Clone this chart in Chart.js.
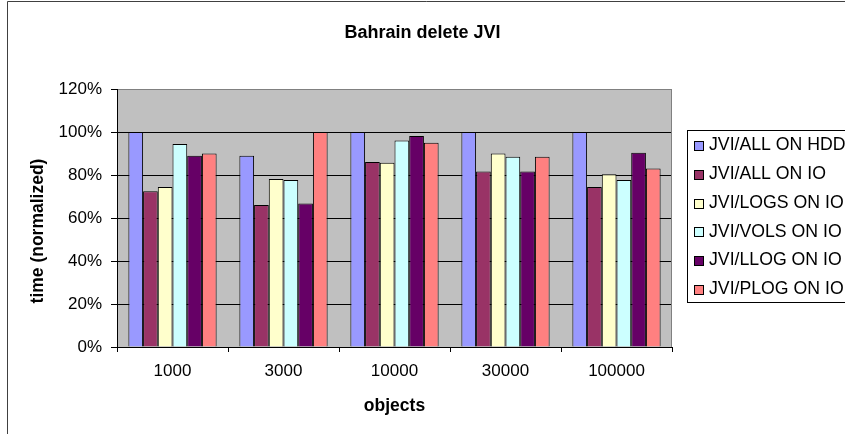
<!DOCTYPE html>
<html>
<head>
<meta charset="utf-8">
<script src="https://cdn.jsdelivr.net/npm/chart.js@4/dist/chart.umd.min.js"></script>
<style>
  html, body { margin: 0; padding: 0; background: #fff; }
  canvas { display: block; }
</style>
</head>
<body>
<canvas id="chart" width="845" height="434"></canvas>
<script>
// Object counts on the category axis
const categories = ['1000', '3000', '10000', '30000', '100000'];

// Delete time per configuration, normalized to percent
const allOnHdd  = [100, 89.0, 100, 100, 100];
const allOnIo   = [72.4, 66.0, 86.0, 81.6, 74.4];
const logsOnIo  = [74.4, 78.1, 85.7, 90.0, 80.3];
const volsOnIo  = [94.4, 77.7, 96.1, 88.5, 77.7];
const llogOnIo  = [89.0, 66.7, 98.1, 81.6, 90.4];
const plogOnIo  = [90.0, 100, 95.0, 88.5, 83.0];

const seriesLabels = [
  'JVI/ALL ON HDD', 'JVI/ALL ON IO', 'JVI/LOGS ON IO',
  'JVI/VOLS ON IO', 'JVI/LLOG ON IO', 'JVI/PLOG ON IO'
];
const seriesValues = [allOnHdd, allOnIo, logsOnIo, volsOnIo, llogOnIo, plogOnIo];
const seriesColors = ['#9999FF', '#993366', '#FFFFCC', '#CCFFFF', '#660066', '#FF8080'];

// Value axis ticks
const yTicks = [0, 20, 40, 60, 80, 100, 120];

const chartTitle = 'Bahrain delete JVI';
const xTitle = 'objects';
const yTitle = 'time (normalized)';

const FONT = "'Liberation Sans', Arial, sans-serif";

// Grey plot background, frame, rotated value-axis title and boxed legend
const decorations = {
  id: 'decorations',
  beforeDraw(chart) {
    const { ctx, chartArea: a } = chart;
    ctx.save();
    ctx.fillStyle = '#FFFFFF';
    ctx.fillRect(0, 0, chart.width, chart.height);
    ctx.fillStyle = '#C0C0C0';
    ctx.fillRect(a.left, a.top, a.right - a.left, a.bottom - a.top);
    ctx.restore();
  },
  afterDraw(chart) {
    const { ctx, chartArea: a } = chart;
    ctx.save();

    // plot-area right edge
    ctx.strokeStyle = '#808080';
    ctx.lineWidth = 1;
    ctx.beginPath();
    ctx.moveTo(Math.round(a.right) - 0.5, a.top);
    ctx.lineTo(Math.round(a.right) - 0.5, a.bottom);
    ctx.stroke();

    // chart frame (left and top edges)
    ctx.strokeStyle = '#404040';
    ctx.beginPath();
    ctx.moveTo(7.5, chart.height + 2);
    ctx.lineTo(7.5, 1.5);
    ctx.lineTo(chart.width + 2, 1.5);
    ctx.stroke();

    // value-axis title
    ctx.fillStyle = '#000';
    ctx.font = 'bold 17.5px ' + FONT;
    ctx.textAlign = 'center';
    ctx.textBaseline = 'middle';
    ctx.translate(38.5, 231);
    ctx.rotate(-Math.PI / 2);
    ctx.fillText(yTitle, 0, 0);
    ctx.setTransform(1, 0, 0, 1, 0, 0);

    // legend
    const lx = 687.5, ly = 130.5, lw = 200, lh = 172;
    ctx.fillStyle = '#FFFFFF';
    ctx.fillRect(lx, ly, lw, lh);
    ctx.strokeStyle = '#000';
    ctx.strokeRect(lx, ly, lw, lh);
    ctx.font = '17.7px ' + FONT;
    ctx.textAlign = 'left';
    ctx.textBaseline = 'middle';
    chart.data.datasets.forEach((ds, i) => {
      const yc = 145.5 + i * 28.75;
      const sy = Math.round(yc - 4.5) + 0.5;
      ctx.fillStyle = ds.backgroundColor;
      ctx.fillRect(694.5, sy, 9, 9);
      ctx.strokeStyle = '#000';
      ctx.strokeRect(694.5, sy, 9, 9);
      ctx.fillStyle = '#000';
      ctx.fillText(ds.label, 709, yc);
    });
    ctx.restore();
  }
};

new Chart(document.getElementById('chart'), {
  type: 'bar',
  data: {
    labels: categories,
    datasets: seriesLabels.map((label, i) => ({
      label,
      data: seriesValues[i],
      backgroundColor: seriesColors[i],
      borderColor: '#000',
      borderWidth: 1,
      categoryPercentage: 0.795,
      barPercentage: 1.0
    }))
  },
  options: {
    responsive: false,
    animation: false,
    devicePixelRatio: 1,
    layout: { padding: 0 },
    plugins: {
      legend: { display: false },
      tooltip: { enabled: false },
      title: {
        display: true,
        text: chartTitle,
        color: '#000',
        font: { family: FONT, size: 18, weight: 'bold', lineHeight: 1.2 },
        padding: { top: 22, bottom: 45.4 }
      }
    },
    scales: {
      x: {
        grid: {
          display: true,
          drawOnChartArea: false,
          drawTicks: true,
          tickLength: 5,
          offset: true,
          color: '#000'
        },
        border: { display: true, color: '#000' },
        ticks: {
          color: '#000',
          font: { family: FONT, size: 17 },
          padding: 9,
          maxRotation: 0
        },
        title: {
          display: true,
          text: xTitle,
          color: '#000',
          font: { family: FONT, size: 17.5, weight: 'bold', lineHeight: 1.2 },
          padding: { top: 0, bottom: 17.5 }
        },
        afterFit(scale) { scale.height = 87; }
      },
      y: {
        min: 0,
        max: 120,
        afterBuildTicks(scale) { scale.ticks = yTicks.map(v => ({ value: v })); },
        grid: {
          color: (c) => (c.tick && c.tick.value === 120 ? '#808080' : '#000'),
          tickColor: '#000',
          tickLength: 6,
          drawTicks: true
        },
        border: { display: true, color: '#000' },
        ticks: {
          color: '#000',
          font: { family: FONT, size: 17 },
          padding: 9,
          callback: (v) => v + '%'
        },
        afterFit(scale) { scale.width = 117; }
      },
      spacer: {
        position: 'right',
        display: true,
        grid: { display: false, drawTicks: false },
        border: { display: false },
        ticks: { display: false },
        afterFit(scale) { scale.width = 173; }
      }
    }
  },
  plugins: [decorations]
});
</script>
</body>
</html>
